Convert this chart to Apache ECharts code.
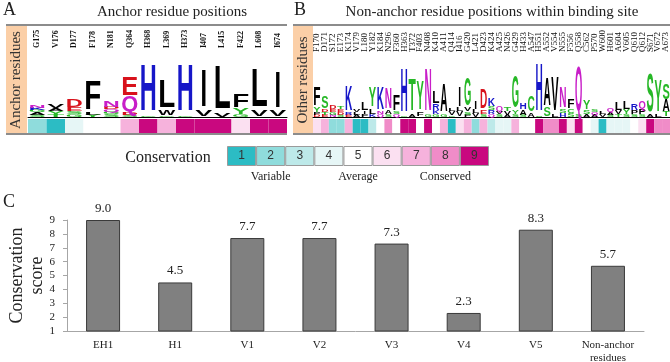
<!DOCTYPE html>
<html>
<head>
<meta charset="utf-8">
<script src="https://cdn.jsdelivr.net/npm/echarts@6/dist/echarts.min.js"></script>
<style>
  html, body { margin: 0; padding: 0; background: #fff; }
  #chart { width: 670px; height: 362px; }
</style>
</head>
<body>
<div id="chart"></div>
<script>
// panel A: anchor residues
const anchorPositions = ['G175', 'V176', 'D177', 'F178', 'N181', 'Q364', 'H368', 'L369', 'H373', 'I407', 'L415', 'F422', 'L608', 'I674']
// letter stacks, bottom to top, heights in bits
const anchorLogo = [
  [['S', 0.15], ['A', 0.2], ['G', 0.2], ['K', 0.15], ['N', 0.2]],
  [['T', 0.15], ['Y', 0.3], ['A', 0.2], ['V', 0.35]],
  [['G', 0.2], ['S', 0.2], ['E', 0.3], ['D', 0.6]],
  [['Y', 0.15], ['L', 0.2], ['F', 2.3]],
  [['S', 0.2], ['G', 0.2], ['Q', 0.2], ['D', 0.15], ['N', 0.55]],
  [['S', 0.15], ['D', 0.15], ['Q', 1.25], ['E', 1.5]],
  [['G', 0.1], ['H', 3.7]],
  [['G', 0.1], ['W', 0.4], ['L', 2.2]],
  [['G', 0.1], ['H', 3.7]],
  [['V', 0.55], ['I', 2.9]],
  [['V', 0.3], ['L', 3.45]],
  [['G', 0.15], ['Y', 0.5], ['F', 1.0]],
  [['V', 0.5], ['L', 3.1]],
  [['V', 0.5], ['I', 2.8]]
]
const anchorGrades = [2, 1, 4, 5, 5, 7, 9, 7, 9, 9, 9, 6, 9, 9]

// panel B: other residues within the binding site
const otherPositions = ['F170', 'D171', 'S172', 'E173', 'K174', 'V179', 'L180', 'Y182', 'K184', 'N296', 'F360', 'H363', 'T372', 'F403', 'N408',
  'K410', 'A411', 'Q414', 'I416', 'G420', 'L421', 'D423', 'K424', 'A425', 'N426', 'G429', 'H433', 'A547', 'H551', 'A552',
  'V554', 'N555', 'F556', 'Q558', 'C562', 'P570', 'W600', 'H601', 'A604', 'V605', 'Q610', 'Q612', 'S671', 'V672', 'A673']
const otherLogo = [
  [['D', 0.15], ['P', 0.2], ['Y', 0.45], ['F', 1.45]],
  [['E', 0.15], ['T', 0.2], ['D', 0.25], ['S', 0.9]],
  [['N', 0.15], ['G', 0.2], ['E', 0.25], ['D', 0.3]],
  [['S', 0.15], ['D', 0.2], ['E', 0.25], ['T', 0.25]],
  [['E', 0.15], ['R', 0.15], ['K', 2.0]],
  [['A', 0.15], ['L', 0.2], ['V', 0.25]],
  [['F', 0.2], ['I', 0.25], ['L', 0.6]],
  [['K', 0.2], ['L', 0.45], ['Y', 1.6]],
  [['Q', 0.2], ['N', 0.2], ['K', 1.8]],
  [['S', 0.2], ['A', 0.3], ['N', 1.7]],
  [['Q', 0.2], ['S', 0.2], ['F', 1.3]],
  [['G', 0.1], ['H', 3.5]],
  [['A', 0.25], ['T', 2.5]],
  [['F', 0.35], ['Y', 2.3]],
  [['G', 0.15], ['N', 3.4]],
  [['G', 0.2], ['K', 0.3], ['R', 0.5], ['L', 0.9]],
  [['G', 0.25], ['A', 2.2]],
  [['G', 0.1], ['V', 0.35], ['L', 0.2]],
  [['V', 0.4], ['L', 0.3], ['I', 1.6]],
  [['P', 0.15], ['S', 0.25], ['V', 0.3], ['G', 2.2]],
  [['V', 0.3], ['L', 0.3], ['I', 0.6]],
  [['S', 0.2], ['E', 0.35], ['D', 1.6]],
  [['Q', 0.2], ['R', 0.3], ['S', 0.3], ['K', 0.6]],
  [['S', 0.2], ['V', 0.25], ['Q', 0.4]],
  [['A', 0.15], ['V', 0.3], ['T', 0.35]],
  [['S', 0.2], ['Y', 0.3], ['G', 2.5]],
  [['S', 0.15], ['A', 0.4], ['H', 0.5]],
  [['A', 0.3], ['C', 1.3]],
  [['S', 0.1], ['H', 3.8]],
  [['S', 0.7], ['A', 2.2]],
  [['L', 0.2], ['V', 2.7]],
  [['H', 0.3], ['S', 0.3], ['N', 1.7]],
  [['S', 0.3], ['C', 0.3], ['F', 0.7]],
  [['S', 0.15], ['Q', 3.6]],
  [['A', 0.2], ['S', 0.35], ['Y', 0.7]],
  [['A', 0.15], ['Q', 0.2], ['S', 0.15]],
  [['V', 0.2], ['L', 0.15]],
  [['S', 0.15], ['A', 0.2], ['Q', 0.35]],
  [['T', 0.2], ['V', 0.3], ['L', 0.6]],
  [['S', 0.2], ['Y', 0.4], ['L', 0.6]],
  [['S', 0.2], ['P', 0.3], ['R', 0.5]],
  [['S', 0.15], ['P', 0.45], ['Q', 0.6]],
  [['A', 0.15], ['S', 3.1]],
  [['L', 0.2], ['Y', 2.5]],
  [['T', 0.4], ['A', 0.9], ['S', 1.3]]
]
const otherGrades = [6, 7, 2, 2, 7, 1, 1, 3, 5, 8, 5, 9, 9, 5, 9, 5, 7, 1, 6, 7, 2, 7, 3, 4, 4, 7, 5, 5, 9, 8,
  8, 9, 6, 9, 5, 4, 1, 4, 4, 4, 5, 6, 9, 8, 8]

// conservation legend
const gradeColors = ['#2cbcc4', '#8fdcdc', '#bde9e9', '#e6f6f6', '#ffffff', '#fbe0f1', '#f6b2dc', '#f08cc8', '#c9087f']
const legendGrades = [1, 2, 3, 4, 5, 6, 7, 8, 9]
const legendNotes = ['', 'Variable', '', '', 'Average', '', '', 'Conserved', '']

// panel C
const groups = ['EH1', 'H1', 'V1', 'V2', 'V3', 'V4', 'V5', 'Non-anchor\nresidues']
const groupScores = [9.0, 4.5, 7.7, 7.7, 7.3, 2.3, 8.3, 5.7]

const serif = '"Liberation Serif", "DejaVu Serif", serif'
const logoFont = 'bold 100px "Liberation Sans", Arial, sans-serif'
const capHeight = 72 // cap height of logoFont, px

const letterColors = {
  G: '#27b827', S: '#27b827', T: '#27b827', Y: '#27b827', C: '#27b827',
  K: '#1616c8', R: '#1616c8', H: '#1616c8',
  D: '#d8121c', E: '#d8121c',
  N: '#c81ec8', Q: '#c81ec8'
}

const measureCtx = document.createElement('canvas').getContext('2d')
measureCtx.font = logoFont
const wideW = measureCtx.measureText('H').width

function logoRenderer(stacks) {
  return function(params, api) {
    const i = api.value(0)
    const colW = api.size([1, 0])[0] * 0.92
    const children = []
    let base = 0
    stacks[i].forEach(([ch, h]) => {
      const p0 = api.coord([i, base])
      const p1 = api.coord([i, base + h])
      base += h
      const hp = p0[1] - p1[1]
      // keep I narrow, stretch the rest to the column width
      const w = ch === 'I' ? wideW : measureCtx.measureText(ch).width
      children.push({
        type: 'text',
        x: p0[0],
        y: (p0[1] + p1[1]) / 2,
        scaleX: colW / w,
        scaleY: hp / capHeight,
        style: {
          text: ch,
          font: logoFont,
          fill: letterColors[ch] || '#000',
          align: 'center',
          verticalAlign: 'middle'
        }
      })
    })
    return { type: 'group', children }
  }
}

function stripData(grades) {
  return grades.map(g => ({ value: 1, itemStyle: { color: gradeColors[g - 1] }}))
}

const hiddenValue = (idx, min, max) => ({
  type: 'value', gridIndex: idx, min: min, max: max, show: false
})

const fixedGrid = g => Object.assign({ outerBoundsMode: 'none', containLabel: false }, g)

const chart = echarts.init(document.getElementById('chart'), null, { renderer: 'canvas' })
chart.setOption({
  animation: false,
  grid: [
    fixedGrid({ left: 28, width: 259, top: 60, height: 57 }),
    fixedGrid({ left: 313, width: 357, top: 60, height: 57 }),
    fixedGrid({ left: 28, width: 259, top: 119, height: 14 }),
    fixedGrid({ left: 313, width: 357, top: 119, height: 14 }),
    fixedGrid({ left: 227, width: 262, top: 146, height: 20 }),
    fixedGrid({ left: 67, right: 26, top: 220, bottom: 31 })
  ],
  xAxis: [
    {
      type: 'category', gridIndex: 0, position: 'top', data: anchorPositions,
      axisLine: { lineStyle: { color: '#000', width: 1 }},
      axisTick: { show: false },
      axisLabel: { rotate: 90, interval: 0, margin: 12, fontFamily: serif, fontSize: 8, fontWeight: 'bold', color: '#111' }
    },
    {
      type: 'category', gridIndex: 1, position: 'top', data: otherPositions,
      axisLine: { lineStyle: { color: '#000', width: 1 }},
      axisTick: { show: false },
      axisLabel: { rotate: 90, interval: 0, margin: 8, fontFamily: serif, fontSize: 9, color: '#111' }
    },
    { type: 'category', gridIndex: 2, data: anchorPositions, show: false },
    { type: 'category', gridIndex: 3, data: otherPositions, show: false },
    {
      type: 'category', gridIndex: 4, data: legendNotes,
      axisLine: { show: false }, axisTick: { show: false },
      axisLabel: { interval: 0, margin: 5, fontFamily: serif, fontSize: 12, color: '#222' }
    },
    {
      type: 'category', gridIndex: 5, data: groups,
      axisLine: { lineStyle: { color: '#a6a6a6', width: 1 }},
      axisTick: { show: false },
      axisLabel: { interval: 0, margin: 8, fontFamily: serif, fontSize: 11, lineHeight: 13, color: '#222' }
    }
  ],
  yAxis: [
    hiddenValue(0, 0, 4.5),
    hiddenValue(1, 0, 4.5),
    hiddenValue(2, 0, 1),
    hiddenValue(3, 0, 1),
    hiddenValue(4, 0, 1),
    {
      type: 'value', gridIndex: 5, min: 1, max: 9, interval: 1,
      name: 'Conservation\nscore', nameLocation: 'middle', nameGap: 20, nameMoveOverlap: false,
      nameTextStyle: { fontFamily: serif, fontSize: 18, lineHeight: 20, color: '#222' },
      axisLine: { show: true, lineStyle: { color: '#a6a6a6' }},
      axisTick: { show: true, length: 4, lineStyle: { color: '#a6a6a6' }},
      splitLine: { show: false },
      axisLabel: { margin: 12, fontFamily: serif, fontSize: 11, color: '#222' }
    }
  ],
  series: [
    {
      type: 'custom', xAxisIndex: 0, yAxisIndex: 0,
      renderItem: logoRenderer(anchorLogo),
      data: anchorLogo.map((s, i) => [i, s.reduce((t, l) => t + l[1], 0)])
    },
    {
      type: 'custom', xAxisIndex: 1, yAxisIndex: 1,
      renderItem: logoRenderer(otherLogo),
      data: otherLogo.map((s, i) => [i, s.reduce((t, l) => t + l[1], 0)])
    },
    {
      type: 'bar', xAxisIndex: 2, yAxisIndex: 2, barCategoryGap: '0%',
      data: stripData(anchorGrades)
    },
    {
      type: 'bar', xAxisIndex: 3, yAxisIndex: 3, barCategoryGap: '0%',
      data: stripData(otherGrades)
    },
    {
      type: 'bar', xAxisIndex: 4, yAxisIndex: 4, barCategoryGap: '0%',
      data: legendGrades.map(g => ({ value: 1, itemStyle: { color: gradeColors[g - 1] }})),
      itemStyle: { borderColor: '#9a9a9a', borderWidth: 1 },
      label: {
        show: true, position: 'inside', fontFamily: '"Liberation Sans", sans-serif', fontSize: 12, color: '#333',
        formatter: p => legendGrades[p.dataIndex]
      }
    },
    {
      type: 'bar', xAxisIndex: 5, yAxisIndex: 5, barWidth: 34,
      data: groupScores,
      itemStyle: { color: '#808080', borderColor: '#3a3a3a', borderWidth: 1 },
      label: {
        show: true, position: 'top', distance: 5, fontFamily: serif, fontSize: 13, color: '#222',
        formatter: p => p.value.toFixed(1)
      }
    }
  ],
  graphic: [
    // panel frames
    { type: 'rect', shape: { x: 6, y: 26, width: 21, height: 108 }, style: { fill: '#fbcfa7' }},
    { type: 'rect', shape: { x: 293, y: 26, width: 20, height: 108 }, style: { fill: '#fbcfa7' }},
    { type: 'line', shape: { x1: 6, y1: 25, x2: 287, y2: 25 }, style: { stroke: '#8c8c8c', lineWidth: 2 }},
    { type: 'line', shape: { x1: 293, y1: 25, x2: 670, y2: 25 }, style: { stroke: '#8c8c8c', lineWidth: 2 }},
    { type: 'line', shape: { x1: 6, y1: 134, x2: 287, y2: 134 }, style: { stroke: '#8c8c8c', lineWidth: 2 }},
    { type: 'line', shape: { x1: 293, y1: 134, x2: 670, y2: 134 }, style: { stroke: '#8c8c8c', lineWidth: 2 }},
    {
      type: 'text', x: 16, y: 80, rotation: Math.PI / 2,
      style: { text: 'Anchor residues', font: '15px ' + serif, fill: '#333', align: 'center', verticalAlign: 'middle' }
    },
    {
      type: 'text', x: 303, y: 80, rotation: Math.PI / 2,
      style: { text: 'Other residues', font: '15px ' + serif, fill: '#333', align: 'center', verticalAlign: 'middle' }
    },
    // titles and panel letters
    { type: 'text', x: 3, y: 10, style: { text: 'A', font: '18px ' + serif, fill: '#222', verticalAlign: 'middle' }},
    { type: 'text', x: 294, y: 10, style: { text: 'B', font: '18px ' + serif, fill: '#222', verticalAlign: 'middle' }},
    { type: 'text', x: 3, y: 202, style: { text: 'C', font: '18px ' + serif, fill: '#222', verticalAlign: 'middle' }},
    {
      type: 'text', x: 172, y: 12,
      style: { text: 'Anchor residue positions', font: '15px ' + serif, fill: '#222', align: 'center', verticalAlign: 'middle' }
    },
    {
      type: 'text', x: 492, y: 12,
      style: { text: 'Non-anchor residue positions within binding site', font: '15px ' + serif, fill: '#222', align: 'center', verticalAlign: 'middle' }
    },
    {
      type: 'text', x: 168, y: 158,
      style: { text: 'Conservation', font: '16px ' + serif, fill: '#222', align: 'center', verticalAlign: 'middle' }
    }
  ]
})
</script>
</body>
</html>
